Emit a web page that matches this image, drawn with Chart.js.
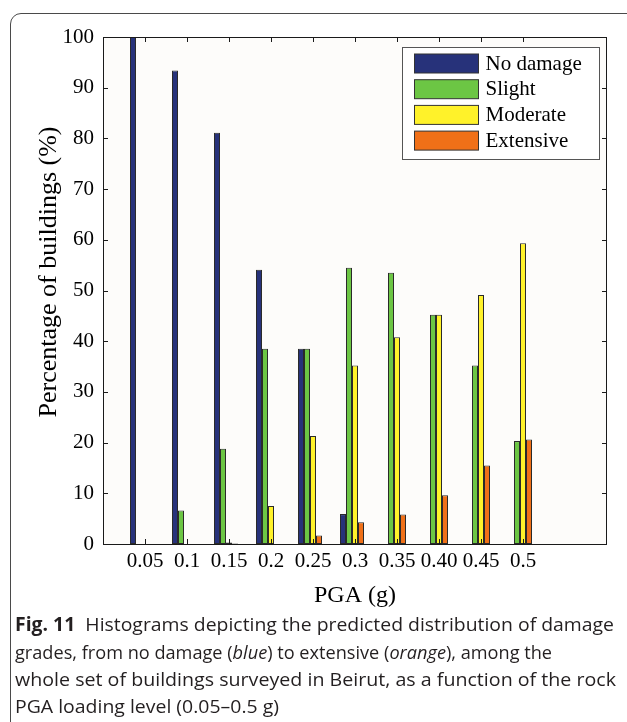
<!DOCTYPE html>
<html>
<head>
<meta charset="utf-8">
<script src="https://cdn.jsdelivr.net/npm/chart.js@4.4.1/dist/chart.umd.min.js"></script>
<style>
html, body { margin: 0; padding: 0; background: #fff; overflow: hidden; }
#wrap { position: relative; width: 627px; height: 722px; overflow: hidden; }
#frame { position: absolute; left: 10px; top: 13px; width: 640px; height: 740px; border: 1px solid #4a4a4a; border-radius: 11px; box-sizing: border-box; }
#chart { position: absolute; left: 0; top: 0; }
.cap { position: absolute; left: 15px; font-family: "Open Sans", sans-serif; font-size: 19px; line-height: 22px; color: #231f20; white-space: nowrap; transform-origin: 0 0; }
.cap b { font-weight: 700; }
</style>
</head>
<body>
<div id="wrap">
  <div id="frame"></div>
  <canvas id="chart" width="627" height="722"></canvas>
  <div class="cap" data-w="599" style="top:613px"><b>Fig. 11</b>&nbsp; Histograms depicting the predicted distribution of damage</div>
  <div class="cap" data-w="537" style="top:641px">grades, from no damage (<i>blue</i>) to extensive (<i>orange</i>), among the</div>
  <div class="cap" data-w="601" style="top:668px">whole set of buildings surveyed in Beirut, as a function of the rock</div>
  <div class="cap" data-w="264" style="top:695px">PGA loading level (0.05–0.5 g)</div>
</div>
<script>
// --- datos ---
const pga = ['0.05', '0.1', '0.15', '0.2', '0.25', '0.3', '0.35', '0.40', '0.45', '0.5'];
const seriesNames = ['No damage', 'Slight', 'Moderate', 'Extensive'];
const noDamage = [100, 93.4, 81.1, 54.1, 38.5, 5.9, 0, 0, 0, 0];
const slight = [0, 6.6, 18.8, 38.5, 38.5, 54.5, 53.5, 45.2, 35.2, 20.3];
const moderate = [0, 0, 0.3, 7.5, 21.3, 35.2, 40.8, 45.2, 49.1, 59.3];
const extensive = [0, 0, 0.1, 0, 1.7, 4.3, 5.8, 9.6, 15.5, 20.6];
const yTicks = [0, 10, 20, 30, 40, 50, 60, 70, 80, 90, 100];
const colores = ['#27327a', '#6cc644', '#fff22a', '#f07018'];
const tituloY = 'Percentage of buildings (%)';

const SERIF = '"Liberation Serif", "Times New Roman", serif';

// el eje va de 0 a 12, las categorias estan en 1..10
const etiquetas = ['', ...pga, '', ''];
const pad = arr => [null, ...arr, null, null];

const datasets = [noDamage, slight, moderate, extensive].map((serie, i) => ({
    label: seriesNames[i],
    data: pad(serie),
    backgroundColor: colores[i],
    borderColor: '#2a2a2a',
    borderWidth: 1,
    borderSkipped: false
}));
// hueco vacio al final del grupo (el grupo original queda corrido a la izquierda del tick)
datasets.push({ label: '', data: [], backgroundColor: 'rgba(0,0,0,0)', borderWidth: 0 });

const fondoPlugin = {
    id: 'fondo',
    beforeDatasetsDraw(chart) {
        const { ctx, chartArea: a } = chart;
        ctx.save();
        ctx.fillStyle = '#fdfcfa';
        ctx.fillRect(a.left, a.top, a.right - a.left, a.bottom - a.top);
        ctx.restore();
    }
};

const ejesPlugin = {
    id: 'ejes',
    afterDatasetsDraw(chart) {
        const { ctx, chartArea: a, scales } = chart;
        ctx.save();
        ctx.strokeStyle = '#1a1a1a';
        ctx.lineWidth = 1;
        ctx.beginPath();
        ctx.rect(Math.round(a.left) + 0.5, Math.round(a.top) + 0.5, Math.round(a.right - a.left) - 1, Math.round(a.bottom - a.top));
        const tl = 5;
        pga.forEach((p, i) => {
            const x = Math.round(scales.x.getPixelForValue(i + 1)) + 0.5;
            ctx.moveTo(x, a.bottom); ctx.lineTo(x, a.bottom - tl);
            ctx.moveTo(x, a.top); ctx.lineTo(x, a.top + tl);
        });
        yTicks.forEach(v => {
            const y = Math.round(scales.y.getPixelForValue(v)) + 0.5;
            ctx.moveTo(a.left, y); ctx.lineTo(a.left + tl, y);
            ctx.moveTo(a.right, y); ctx.lineTo(a.right - tl, y);
        });
        ctx.stroke();

        // titulo del eje Y, algo por encima del centro como en el original
        ctx.translate(49, 272);
        ctx.rotate(-Math.PI / 2);
        ctx.font = '26px ' + SERIF;
        ctx.fillStyle = '#000';
        ctx.textAlign = 'center';
        ctx.textBaseline = 'middle';
        ctx.fillText(tituloY, 0, 0);
        ctx.restore();
    }
};

const leyendaPlugin = {
    id: 'leyenda',
    afterDraw(chart) {
        const { ctx, chartArea: a } = chart;
        const w = 197, h = 112;
        const x0 = Math.round(a.right - 8 - w) + 0.5;
        const y0 = Math.round(a.top + 10) + 0.5;
        ctx.save();
        ctx.fillStyle = '#ffffff';
        ctx.fillRect(x0, y0, w, h);
        ctx.strokeStyle = '#555';
        ctx.lineWidth = 1;
        ctx.strokeRect(x0, y0, w, h);
        ctx.font = '21px ' + SERIF;
        ctx.textBaseline = 'middle';
        ctx.textAlign = 'left';
        seriesNames.forEach((nombre, i) => {
            const sy = y0 + 6.5 + i * 25.7;
            ctx.fillStyle = colores[i];
            ctx.fillRect(x0 + 12, sy, 64, 19);
            ctx.strokeStyle = '#333';
            ctx.strokeRect(x0 + 12, sy, 64, 19);
            ctx.fillStyle = '#000';
            ctx.fillText(nombre, x0 + 83, sy + 10);
        });
        ctx.restore();
    }
};

new Chart(document.getElementById('chart'), {
    type: 'bar',
    data: { labels: etiquetas, datasets: datasets },
    options: {
        responsive: false,
        animation: false,
        devicePixelRatio: 1,
        layout: { padding: { top: 37, right: 20, left: 0, bottom: 0 } },
        datasets: { bar: { categoryPercentage: 30 / 42, barPercentage: 1, grouped: true } },
        plugins: { legend: { display: false }, tooltip: { enabled: false } },
        scales: {
            x: {
                type: 'category',
                offset: false,
                grid: { display: false, drawTicks: false },
                border: { display: false },
                ticks: { autoSkip: false, maxRotation: 0, minRotation: 0, color: '#000', font: { family: SERIF, size: 21 }, padding: 5 },
                title: { display: true, text: 'PGA (g)', color: '#000', font: { family: SERIF, size: 24 }, padding: { top: 0, bottom: 112 } },
                afterFit: s => { s.height = 178; }
            },
            y: {
                min: 0,
                max: 100,
                grid: { display: false, drawTicks: false },
                border: { display: false },
                ticks: { stepSize: 10, color: '#000', font: { family: SERIF, size: 21 }, padding: 9 },
                afterFit: s => { s.width = 103; }
            }
        }
    },
    plugins: [fondoPlugin, ejesPlugin, leyendaPlugin]
});

// ajustar el ancho de cada linea del pie de figura
document.querySelectorAll('.cap').forEach(el => {
    const natural = el.getBoundingClientRect().width;
    const objetivo = Number(el.dataset.w);
    if (natural > 0) el.style.transform = `scaleX(${objetivo / natural})`;
});
</script>
</body>
</html>
